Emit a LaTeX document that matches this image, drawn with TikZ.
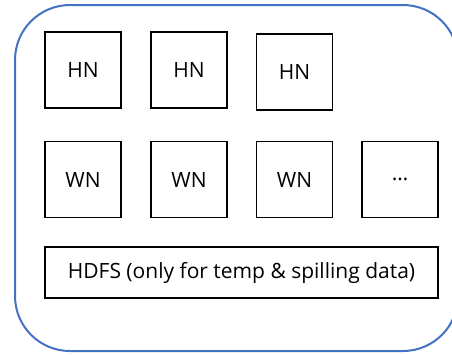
\documentclass[tikz,border=0pt]{standalone}
\usepackage{fontspec}
\setmainfont{Open Sans}
\definecolor{frameblue}{HTML}{4472C4}
\tikzset{
  nodebox/.style={draw=black, line width=1.5bp, minimum width=76bp, minimum height=76bp, inner sep=0pt, font=\fontsize{21bp}{25bp}\selectfont},
  widebox/.style={draw=black, line width=1.5bp, minimum width=393bp, minimum height=51bp, inner sep=0pt, font=\fontsize{21bp}{25bp}\selectfont},
  cluster/.style={draw=frameblue, line width=2bp, rounded corners=55bp}
}
\begin{document}
\begin{tikzpicture}[x=1bp, y=-1bp]
  \useasboundingbox (0,0) rectangle (452,354);
  \clip (0,0) rectangle (452,354);
  % cluster outline (runs past the right edge)
  \draw[cluster] (15,5) rectangle (458,351);
  % head nodes
  \node[nodebox] (hn1) at (83,70) {HN};
  \node[nodebox] (hn2) at (189,70) {HN};
  \node[nodebox] (hn3) at (294.5,72) {HN};
  % worker nodes
  \node[nodebox] (wn1) at (83,179.5) {WN};
  \node[nodebox] (wn2) at (189,179.5) {WN};
  \node[nodebox] (wn3) at (294.5,179.5) {WN};
  \node[nodebox] (wn4) at (400,179.5) {…};
  % storage
  \node[widebox] (hdfs) at (241.5,272.5) {HDFS (only for temp \& spilling data)};
\end{tikzpicture}
\end{document}
